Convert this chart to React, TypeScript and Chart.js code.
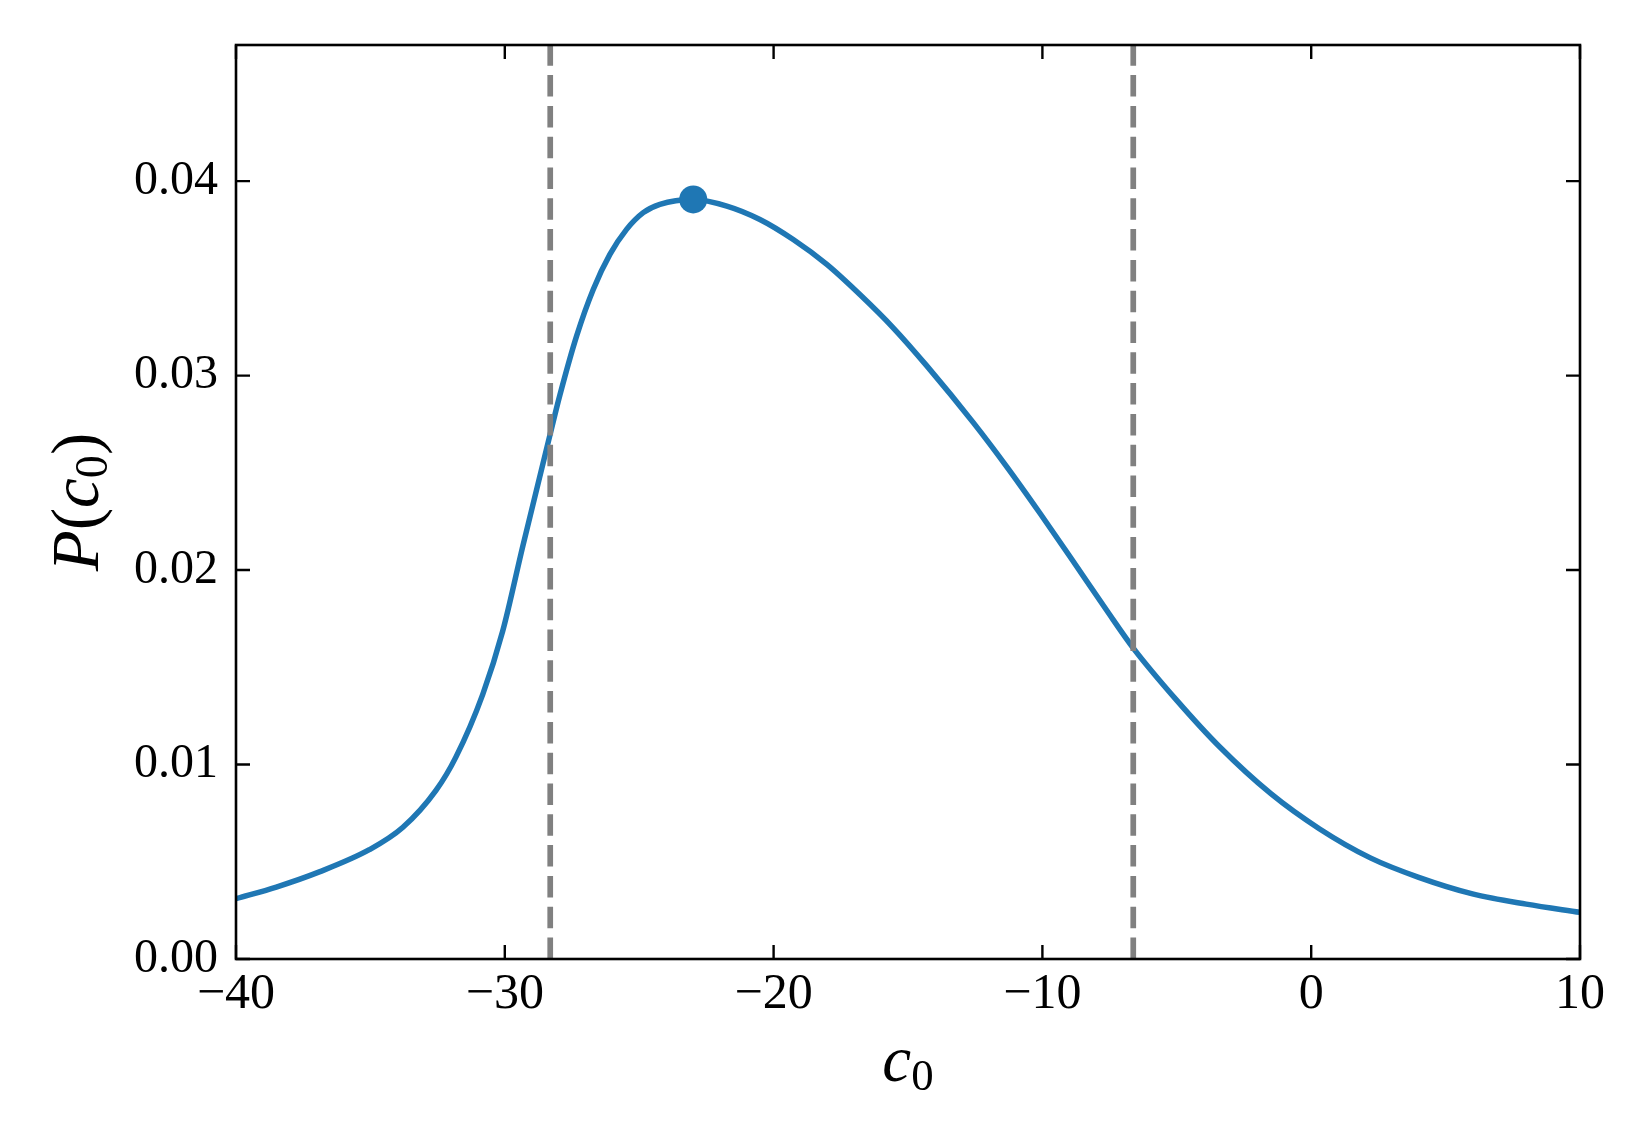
import React, { useEffect, useRef } from 'react';
import { Chart, registerables } from 'chart.js';

Chart.register(...registerables);

// ---- data ----
const cValues = [
  -40, -38.5, -36.9, -35.04, -33.8, -32.56, -31.82, -30.82, -30.08, -29.33, -28.31, -27.95,
  -27.33, -26.71, -26.09, -25.47, -24.85, -24.23, -22.99, -21.74, -20.51, -19.27, -18.02,
  -16.79, -15.55, -14.3, -12.57, -11.33, -10.09, -8.85, -7.61, -6.62, -5, -3.4, -1.5, 0.3,
  2.2, 4, 6, 8, 10,
];
const pValues = [
  0.0031, 0.0037, 0.00448, 0.00562, 0.00676, 0.00867, 0.01038, 0.01361, 0.01685, 0.02123,
  0.027, 0.029, 0.03203, 0.03443, 0.03623, 0.03752, 0.03838, 0.03881, 0.03906, 0.03872,
  0.03803, 0.037, 0.03572, 0.03417, 0.03246, 0.0305, 0.02758, 0.02532, 0.02292, 0.02044,
  0.01793, 0.01599, 0.0133, 0.0109, 0.0085, 0.0067, 0.0052, 0.0042, 0.00335, 0.00282, 0.0024,
];
const boundValues = [-28.31, -6.62];
const peakC = [-22.99];
const peakP = [0.03906];
const xTicks = [-40, -30, -20, -10, 0, 10];
const yTicks = [0, 0.01, 0.02, 0.03, 0.04];
const xRange = [-40, 10];
const yRange = [0, 0.047];

const FONT = '"Liberation Serif", "Times New Roman", serif';
const BLUE = '#1f77b4';

type Part = { t: string; italic?: boolean; sub?: boolean };

function drawMath(ctx: CanvasRenderingContext2D, parts: Part[], cx: number, baseY: number, size: number) {
  const subSize = size * 0.69;
  const fontFor = (p: Part) =>
    `${p.italic ? 'italic ' : ''}${p.sub ? subSize : size}px ${FONT}`;
  let total = 0;
  const widths: number[] = [];
  for (const p of parts) {
    ctx.font = fontFor(p);
    const w = ctx.measureText(p.t).width;
    widths.push(w);
    total += w;
  }
  let x = cx - total / 2;
  ctx.textAlign = 'left';
  ctx.textBaseline = 'alphabetic';
  parts.forEach((p, i) => {
    ctx.font = fontFor(p);
    ctx.fillText(p.t, x, baseY + (p.sub ? size * 0.14 : 0));
    x += widths[i];
  });
}

export default function App() {
  const ref = useRef<HTMLCanvasElement>(null);

  useEffect(() => {
    const canvas = ref.current;
    if (!canvas) return;

    const framePlugin = {
      id: 'frameTicks',
      afterDatasetsDraw(chart: any) {
        const { ctx, chartArea: a, scales } = chart;
        ctx.save();
        ctx.strokeStyle = '#000';
        ctx.lineWidth = 2.4;
        const L = 14;
        ctx.beginPath();
        for (const v of xTicks) {
          const x = scales.x.getPixelForValue(v);
          ctx.moveTo(x, a.bottom);
          ctx.lineTo(x, a.bottom - L);
          ctx.moveTo(x, a.top);
          ctx.lineTo(x, a.top + L);
        }
        for (const v of yTicks) {
          const y = scales.y.getPixelForValue(v);
          ctx.moveTo(a.left, y);
          ctx.lineTo(a.left + L, y);
          ctx.moveTo(a.right, y);
          ctx.lineTo(a.right - L, y);
        }
        ctx.stroke();
        ctx.lineWidth = 2.6;
        ctx.strokeRect(a.left, a.top, a.right - a.left, a.bottom - a.top);
        ctx.restore();
      },
      afterDraw(chart: any) {
        const { ctx, chartArea: a } = chart;
        ctx.save();
        ctx.fillStyle = '#000';
        // x title: c_0
        drawMath(ctx, [{ t: 'c', italic: true }, { t: '0', sub: true }], (a.left + a.right) / 2, 1081, 65);
        // y title: P(c_0)
        ctx.translate(98, (a.top + a.bottom) / 2);
        ctx.rotate(-Math.PI / 2);
        drawMath(
          ctx,
          [{ t: 'P', italic: true }, { t: '(' }, { t: 'c', italic: true }, { t: '0', sub: true }, { t: ')' }],
          0,
          0,
          67,
        );
        ctx.restore();
      },
    };

    const curve = cValues.map((c, i) => ({ x: c, y: pValues[i] }));
    const boundSets = boundValues.map((b) => ({
      type: 'line' as const,
      data: [
        { x: b, y: yRange[0] },
        { x: b, y: yRange[1] },
      ],
      borderColor: '#808080',
      borderWidth: 5.7,
      borderDash: [21.5, 9.3],
      pointRadius: 0,
      order: 1,
    }));

    const chart = new Chart(canvas, {
      type: 'line',
      data: {
        datasets: [
          {
            type: 'scatter',
            data: peakC.map((c, i) => ({ x: c, y: peakP[i] })),
            backgroundColor: BLUE,
            borderWidth: 0,
            pointRadius: 14,
            order: 0,
          } as any,
          ...boundSets,
          {
            type: 'line',
            data: curve,
            borderColor: BLUE,
            borderWidth: 5.5,
            pointRadius: 0,
            cubicInterpolationMode: 'monotone',
            order: 2,
          },
        ],
      },
      options: {
        responsive: false,
        animation: false,
        events: [],
        layout: { padding: { top: 45, right: 70, left: 0, bottom: 0 } },
        plugins: { legend: { display: false }, tooltip: { enabled: false } },
        scales: {
          x: {
            type: 'linear',
            min: xRange[0],
            max: xRange[1],
            grid: { display: false },
            border: { display: false },
            afterBuildTicks: (s: any) => {
              s.ticks = xTicks.map((v) => ({ value: v }));
            },
            afterFit: (s: any) => {
              s.height = 181;
            },
            ticks: {
              color: '#000',
              padding: -2,
              maxRotation: 0,
              autoSkip: false,
              font: { family: FONT, size: 50 },
              callback: (v: any) => (Number(v) < 0 ? '\u2212' + Math.abs(Number(v)) : String(v)),
            },
          },
          y: {
            type: 'linear',
            min: yRange[0],
            max: yRange[1],
            grid: { display: false },
            border: { display: false },
            afterBuildTicks: (s: any) => {
              s.ticks = yTicks.map((v) => ({ value: v }));
            },
            afterFit: (s: any) => {
              s.width = 236;
            },
            ticks: {
              color: '#000',
              padding: 10,
              autoSkip: false,
              font: { family: FONT, size: 48 },
              callback: (v: any) => Number(v).toFixed(2),
            },
          },
        },
      },
      plugins: [framePlugin],
    });

    return () => chart.destroy();
  }, []);

  return (
    <div style={{ position: 'absolute', left: 0, top: 0, width: 1650, height: 1140, background: '#fff' }}>
      <canvas ref={ref} width={1650} height={1140} style={{ display: 'block' }} />
    </div>
  );
}
